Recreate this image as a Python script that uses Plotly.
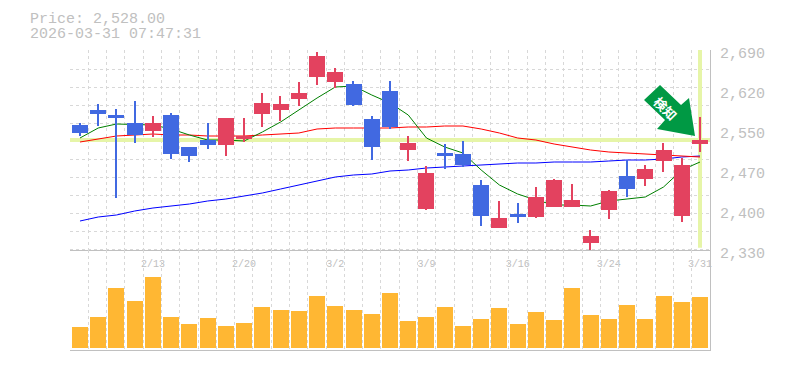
import plotly.graph_objects as go

# price data (yen): body top, body bottom, high, low
body_top = [2555,2582,2573,2558.6,2558.6,2573,2515.4,2528,2567.6,2535.2,2594.6,2592.8,2612.6,2679.2,2650.4,2628.8,2565.8,2616.2,2522.6,2468.6,2504.6,2502.8,2447,2387.6,2394.8,2425.4,2456,2420,2355.2,2436.2,2463.2,2475.8,2510,2483,2528]
body_bot = [2540.6,2574.8,2567.6,2537,2544.2,2502.8,2499.2,2519,2519,2529.8,2574.8,2582,2601.8,2641.4,2632.4,2591,2515.4,2551.4,2510,2403.8,2499.2,2483,2391.2,2369.6,2389.4,2389.4,2407.4,2407.4,2342.6,2402,2439.8,2457.8,2490.2,2391.2,2520.8]
high = [2558.6,2592.8,2583.8,2598.2,2571.2,2576.6,2515.4,2558.6,2567.6,2567.6,2612.6,2607.2,2632.4,2686.4,2657.6,2634.2,2571.2,2634.2,2535.2,2481.2,2520.8,2526.2,2456,2418.2,2414.6,2443.4,2457.8,2448.8,2366,2438,2492,2483,2522.6,2495.6,2569.4]
low = [2535.2,2553.2,2423.6,2522.6,2533.4,2493.8,2488.4,2511.8,2499.2,2524.4,2551.4,2562.2,2589.2,2627,2621.6,2589.2,2492,2547.8,2490.2,2402,2475.8,2479.4,2373.2,2369.6,2378.6,2387.6,2407.4,2407.4,2330,2385.8,2425.4,2445.2,2470.4,2380.4,2506.4]
is_blue = [1,1,1,1,0,1,1,1,0,0,0,0,0,0,0,1,1,1,0,0,1,1,1,0,1,0,0,0,0,0,1,0,0,0,0]
ma_green = [2531.6,2549.6,2556.8,2555.9,2555,2547.8,2537,2528,2528,2526.2,2542.4,2560.4,2582,2603.6,2623.4,2625.2,2609,2594.6,2573,2531.6,2515.4,2504.6,2474,2447,2430.8,2420,2411,2411,2409.2,2418.2,2421.8,2425.4,2443.4,2474,2488.4]
ma_red = [2524.4,2529.8,2535.2,2537,2538.8,2537,2537,2535.2,2535.2,2535.2,2537,2538.8,2540.6,2547.8,2549.6,2549.6,2549.6,2549.6,2551.4,2551.4,2553.2,2553.2,2547.8,2540.6,2531.6,2528,2520.8,2515.4,2510,2506.4,2504.6,2502.8,2501,2499.2,2497.4]
ma_blue = [2382.2,2389.4,2393,2400.2,2405.6,2409.2,2412.8,2418.2,2421.8,2427.2,2432.6,2439.8,2447,2454.2,2461.4,2465,2466.8,2472.2,2474,2477.6,2479.4,2481.2,2483,2484.8,2486.6,2486.6,2488.4,2488.4,2488.4,2490.2,2492,2492,2493.8,2497.4,2499.2]
volume = [64,94,181,142,214,94,73,91,67,76,124,115,112,157,127,115,103,166,82,94,124,67,88,121,73,109,85,181,100,88,130,88,157,139,154]
price_now = 2528
date_pos = [4,9,14,19,24,29,34]
date_text = ["2/13","2/20","3/2","3/9","3/16","3/24","3/31"]
price_ticks = [2330,2402,2474,2546,2618,2690]
price_text = ["2,330","2,400","2,470","2,550","2,620","2,690"]

RED = "#e3425f"; BLUE = "#4169e1"; GRID = "#d8d8d8"; AXIS = "#c0c0c0"; CROSS = "#e6f5a8"; FONT = "Liberation Mono"
DASH = "3px,3px"
n = len(volume)
xs = list(range(n))
colors = [BLUE if b else RED for b in is_blue]
XR = [-0.548, 34.548]
YR = [2330, 2690]
px = lambda v: (v - 70) / 640
py = lambda v: (350 - v) / 300

fig = go.Figure()
fig.add_trace(go.Scatter(x=XR, y=[price_now, price_now], mode="lines", line=dict(color=CROSS, width=4), xaxis="x", yaxis="y", hoverinfo="skip"))
fig.add_trace(go.Scatter(x=[xs[-1], xs[-1]], y=[2334, 2690], mode="lines", line=dict(color=CROSS, width=4), xaxis="x", yaxis="y", hoverinfo="skip"))
for vals, c in ((ma_blue, "#0000ff"), (ma_red, "#ff0000"), (ma_green, "#008000")):
    fig.add_trace(go.Scatter(x=xs, y=vals, mode="lines", line=dict(color=c, width=1), xaxis="x", yaxis="y"))
fig.add_trace(go.Bar(x=xs, y=[h-l for h, l in zip(high, low)], base=low, width=0.07, marker=dict(color=colors, line=dict(width=0)), xaxis="x3", yaxis="y3"))
fig.add_trace(go.Bar(x=xs, y=[t-b for t, b in zip(body_top, body_bot)], base=body_bot, width=0.875, marker=dict(color=colors, line=dict(width=0)), xaxis="x3", yaxis="y3"))
fig.add_trace(go.Bar(x=xs, y=volume, width=0.875, marker=dict(color="#ffb733", line=dict(width=0)), xaxis="x2", yaxis="y2"))

grid_x = dict(tickmode="linear", tick0=XR[0], dtick=1.0028, showgrid=True, gridcolor=GRID, griddash=DASH, gridwidth=1, ticks="", showticklabels=False, zeroline=False)
fig.update_layout(
    width=785, height=370, margin=dict(l=70, r=75, t=50, b=20, autoexpand=False), paper_bgcolor="white", plot_bgcolor="white",
    showlegend=False, barmode="overlay", bargap=0,
    font=dict(family=FONT, color=AXIS),
    xaxis=dict(domain=[0, 1], range=XR, anchor="y", showline=True, linecolor=AXIS, linewidth=1, **grid_x),
    yaxis=dict(domain=[1/3, 1], range=YR, side="right", anchor="x", tickmode="linear", tick0=2331.8, dtick=32.4, showgrid=True, gridcolor=GRID, griddash=DASH, gridwidth=1,
               showticklabels=False, ticks="", showline=True, linecolor=AXIS, linewidth=1, zeroline=False),
    xaxis2=dict(domain=[0, 1], range=XR, anchor="y2", showline=True, linecolor=AXIS, linewidth=1, **grid_x),
    yaxis2=dict(domain=[0, 1/3], range=[-5, 295], side="right", anchor="x2", showticklabels=False, showgrid=False, showline=True, linecolor=AXIS, linewidth=1, zeroline=False, ticks=""),
    xaxis3=dict(overlaying="x", range=XR, anchor="y3", side="bottom", showgrid=False, zeroline=False, showline=False, tickmode="array", tickvals=date_pos, ticktext=date_text, ticks="",
                tickfont=dict(size=10, family=FONT, color=AXIS), ticklabelstandoff=6),
    yaxis3=dict(overlaying="y", range=YR, anchor="x3", side="right", showgrid=False, zeroline=False, showline=False, tickmode="array", tickvals=price_ticks, ticktext=price_text, ticks="",
                tickfont=dict(size=15, family=FONT, color=AXIS), ticklabelshift=3, ticklabelstandoff=9),
    shapes=[dict(type="path", xref="x3", yref="y3", xsizemode="pixel", ysizemode="pixel", xanchor=34, yanchor=price_now,
                 path="M -40 55 L -56 40 L -35 20 L -43 11 L -5 4 L -11 42 L -19 35 Z", fillcolor="#009944", line=dict(width=0), layer="above")],
    annotations=[
        dict(text="Price: 2,528.00", xref="paper", yref="paper", x=px(28), y=py(20), xanchor="left", yanchor="middle", showarrow=False, font=dict(size=15, family=FONT, color=AXIS)),
        dict(text="2026-03-31 07:47:31", xref="paper", yref="paper", x=px(28), y=py(34), xanchor="left", yanchor="middle", showarrow=False, font=dict(size=15, family=FONT, color=AXIS)),
        dict(text="<b>検知</b>", xref="paper", yref="paper", x=px(666), y=py(108), xanchor="center", yanchor="middle", showarrow=False, textangle=45, font=dict(size=13, family="Noto Sans CJK JP", color="white")),
    ],
)
fig.write_html("out.html", post_script="document.body.style.margin='0';", config=dict(displayModeBar=False))
